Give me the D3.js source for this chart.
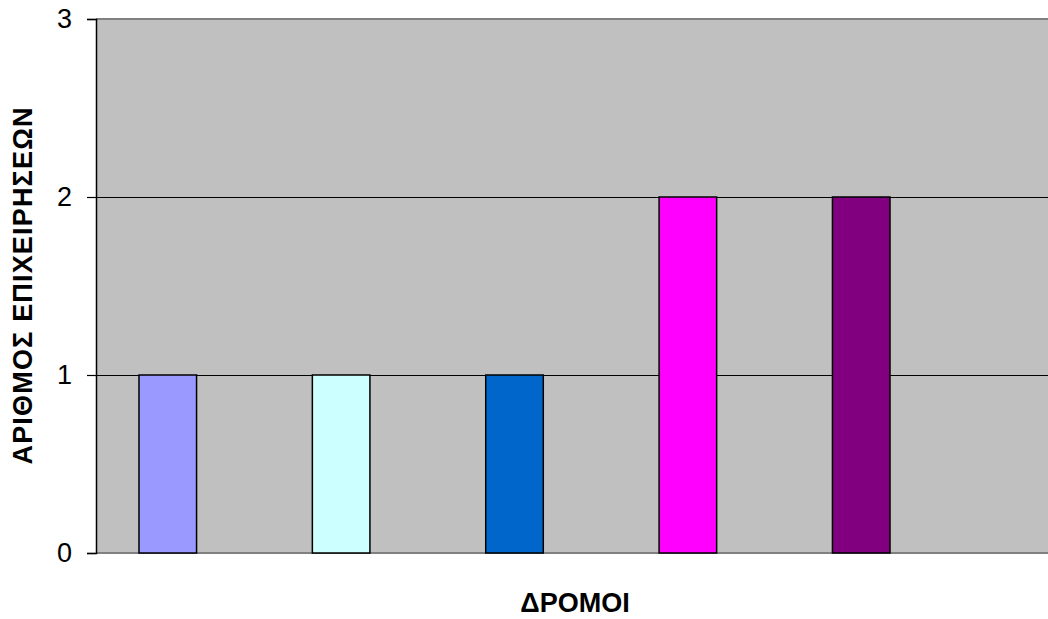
<!DOCTYPE html>
<html>
<head>
<meta charset="utf-8">
<script src="https://cdn.jsdelivr.net/npm/d3@7"></script>
<style>
html,body{margin:0;padding:0;background:#fff;}
svg{display:block;font-family:Arial,"Liberation Sans",sans-serif;}
</style>
</head>
<body>
<svg id="chart" width="1048" height="619"></svg>
<script>
const categories = ["1", "2", "3", "4", "5"];
const values = [1, 1, 1, 2, 2];
const colors = ["#9999FF", "#CCFFFF", "#0066CC", "#FF00FF", "#800080"];
const yTicks = [0, 1, 2, 3];
const xTitle = "ΔΡΟΜΟΙ";
const yTitle = "ΑΡΙΘΜΟΣ ΕΠΙΧΕΙΡΗΣΕΩΝ";

const svg = d3.select("#chart");
const plot = {left: 96, right: 1048, top: 19, bottom: 553};

const y = d3.scaleLinear().domain([0, 3]).range([plot.bottom, plot.top]);
const x = d3.scaleBand().domain(categories)
  .range([plot.left, 933]).paddingInner(0.668).paddingOuter(0.248);

// background
svg.append("rect").attr("x", plot.left).attr("y", plot.top)
  .attr("width", plot.right - plot.left).attr("height", plot.bottom - plot.top)
  .attr("fill", "#C0C0C0");

// gridlines
svg.append("g").selectAll("line").data(yTicks.filter(d => d > 0 && d < 3)).join("line")
  .attr("x1", plot.left).attr("x2", plot.right)
  .attr("y1", d => Math.round(y(d)) + 0.5).attr("y2", d => Math.round(y(d)) + 0.5)
  .attr("stroke", "#000").attr("stroke-width", 1);

// top and bottom borders (gray)
svg.append("line").attr("x1", plot.left).attr("x2", plot.right)
  .attr("y1", plot.top).attr("y2", plot.top).attr("stroke", "#808080").attr("stroke-width", 2);
svg.append("line").attr("x1", plot.left).attr("x2", plot.right)
  .attr("y1", plot.bottom).attr("y2", plot.bottom).attr("stroke", "#808080").attr("stroke-width", 2);

// bars
svg.append("g").selectAll("rect").data(categories).join("rect")
  .attr("x", d => x(d))
  .attr("y", (d, i) => y(values[i]))
  .attr("width", x.bandwidth())
  .attr("height", (d, i) => y(0) - y(values[i]))
  .attr("fill", (d, i) => colors[i])
  .attr("stroke", "#000").attr("stroke-width", 1.5);

// y axis
const yAxis = d3.axisLeft(y).tickValues(yTicks).tickSize(9).tickPadding(15).tickFormat(d3.format("d"));
const ga = svg.append("g").attr("transform", `translate(${plot.left},0)`).call(yAxis);
ga.select(".domain").attr("stroke", "#000").attr("stroke-width", 1.5);
ga.selectAll(".tick line").attr("stroke", "#000").attr("stroke-width", 1.2);
ga.selectAll(".tick text").attr("font-size", 27).attr("fill", "#000")
  .attr("font-family", "Arial, 'Liberation Sans', sans-serif");

// titles
svg.append("text").attr("x", (plot.left + plot.right) / 2 + 3).attr("y", 612)
  .attr("text-anchor", "middle").attr("font-weight", "bold").attr("font-size", 27)
  .text(xTitle);
svg.append("text").attr("transform", `translate(32,${(plot.top + plot.bottom) / 2}) rotate(-90)`)
  .attr("text-anchor", "middle").attr("font-weight", "bold").attr("font-size", 27)
  .attr("textLength", 357).attr("lengthAdjust", "spacing")
  .text(yTitle);
</script>
</body>
</html>
